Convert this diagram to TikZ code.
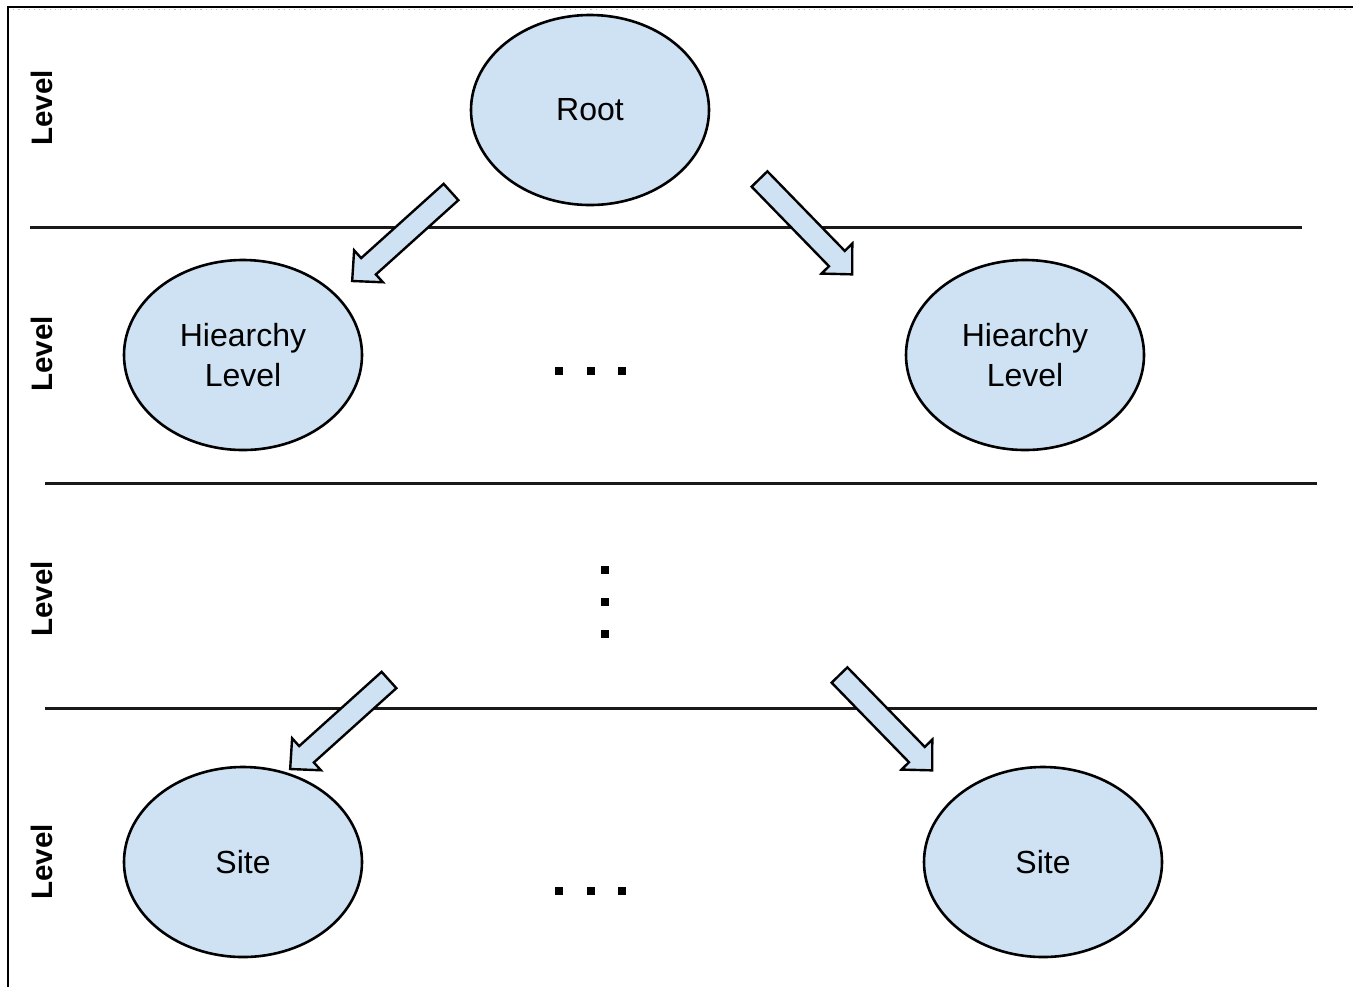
\documentclass[tikz,border=0pt]{standalone}
\usepackage{fontspec}
\setmainfont{Liberation Sans}
\usepackage{tikz}
\usetikzlibrary{shapes.geometric}
\definecolor{boxblue}{HTML}{CFE2F3}

\begin{document}
\begin{tikzpicture}[x=0.5pt, y=-0.5pt,
        main/.style = {draw, ellipse, line width=1.3pt, fill=boxblue, minimum width=119pt, minimum height=95pt, inner sep=0pt, align=center, font=\fontsize{16}{20}\selectfont},
        levellabel/.style = {rotate=90, inner sep=0pt, font=\fontsize{14.8}{17}\selectfont\bfseries},
        sep/.style = {line width=1.5pt, black!90},
        blockarrow/.style = {draw, fill=boxblue, line width=1.2pt, line join=miter}]
        \useasboundingbox (0,0) rectangle (1353,987);
        % frame
        \draw [gray!50, line width=0.6pt, dotted] (8,9.5) -- (1353,9.5);
        \draw [line width=1pt] (8,987) -- (8,7) -- (1353,7);
        % level separators
        \draw [sep] (30,227) -- (1302,227);
        \draw [sep] (45,483) -- (1317,483);
        \draw [sep] (45,708) -- (1317,708);
        % level labels
        \node[levellabel] (l_1) at (42,108) {Level};
        \node[levellabel] (l_2) at (42,354) {Level};
        \node[levellabel] (l_3) at (42,599) {Level};
        \node[levellabel] (l_4) at (42,862) {Level};
        % nodes
        \node[main] (root) at (590,110)  {Root};
        \node[main] (h_1)  at (243,355)  {Hiearchy\\Level};
        \node[main] (h_2)  at (1025,355) {Hiearchy\\Level};
        \node[main] (s_1)  at (243,862)  {Site};
        \node[main] (s_2)  at (1043,862) {Site};
        % block arrows
        \foreach \x/\y/\a in {451/192/222, 759.5/179/-45.8, 389/680/222, 839.5/675/-45.8}
            \draw [blockarrow, shift={(\x,\y)}, rotate=\a] (0,-11) -- (111,-11) -- (111,-21.5) -- (133,0) -- (111,21.5) -- (111,11) -- (0,11) -- cycle;
        % ellipsis dots
        \foreach \x in {558.5,591,621.5} {
            \fill (\x-4,367) rectangle ++(8,8);
            \fill (\x-4,887) rectangle ++(8,8);
        }
        \foreach \y in {569.5,601.5,633.5}
            \fill (600.5,\y-4) rectangle ++(8,8);
    \end{tikzpicture}
\end{document}
